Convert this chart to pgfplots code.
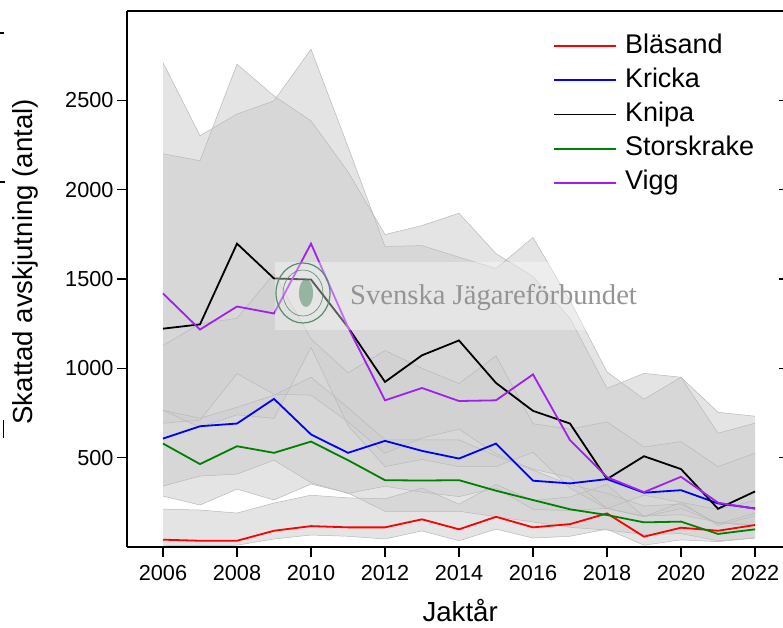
\documentclass[border=0pt]{standalone}
\usepackage{fontspec}
\setmainfont{Liberation Sans}
\newfontfamily\wmfont{Liberation Serif}
\usepackage{pgfplots}
\pgfplotsset{compat=1.18}
\usepackage{pgfplotstable}
\usepgfplotslibrary{fillbetween}

\definecolor{cred}{RGB}{255,0,0}
\definecolor{cblue}{RGB}{0,0,255}
\definecolor{cgreen}{RGB}{0,128,0}
\definecolor{cpurple}{RGB}{160,32,240}
\definecolor{bandfill}{RGB}{205,205,205}
\definecolor{bandline}{RGB}{185,185,185}
\definecolor{logogreen}{RGB}{88,140,108}

% estimates and interval bounds per season
\pgfplotstableread{
year bl bllo blhi kr krlo krhi kn knlo knhi st stlo sthi vi vilo vihi
2006 41 10 212 607 341 1128 1222 693 2201 579 285 765 1419 765 2711
2007 35 8 207 676 397 1250 1246 710 2162 464 235 721 1217 670 2302
2008 35 10 190 691 408 1280 1698 970 2702 564 324 782 1346 740 2423
2009 91 45 246 829 486 1530 1503 855 2525 527 263 850 1307 720 2497
2010 117 67 290 630 360 1165 1497 850 2385 590 352 950 1698 1117 2786
2011 110 60 275 527 300 975 1230 700 2100 486 302 780 1230 680 2240
2012 110 45 270 594 340 1100 924 525 1749 374 200 600 821 450 1682
2013 155 90 330 538 307 1000 1073 610 1799 372 200 600 890 490 1687
2014 99 35 240 495 282 915 1156 660 1868 374 200 600 817 450 1622
2015 169 100 350 579 330 1070 918 520 1642 315 170 510 821 450 1559
2016 110 50 260 371 211 690 762 435 1514 263 140 430 966 530 1732
2017 128 60 280 356 203 660 691 390 1279 211 110 350 598 330 1380
2018 188 100 350 380 217 700 380 215 888 179 95 300 391 215 980
2019 58 10 170 304 173 560 508 290 972 138 70 230 307 170 827
2020 108 40 250 318 181 590 436 250 950 142 75 240 393 215 950
2021 91 30 210 244 139 450 214 120 754 73 35 130 248 135 637
2022 123 50 260 216 123 525 311 175 732 99 50 190 214 118 693
}\data

\pgfplotsset{
  band/.style={draw=bandline, line width=0.5pt, forget plot},
  bandarea/.style={fill=bandfill, fill opacity=0.55, draw=none, forget plot},
}

\begin{document}
\begin{tikzpicture}
\begin{axis}[
  at={(127pt,80pt)}, anchor=south west,
  scale only axis, width=665pt, height=536pt,
  xmin=2005.027, xmax=2023, ymin=0, ymax=3000,
  axis y line*=left, axis x line*=box,
  axis line style={line width=1.6pt, -},
  tick pos=left, tick align=outside,
  major tick length=10pt,
  tick style={line width=1.6pt, black},
  xtick={2006,2008,...,2022},
  ytick={500,1000,...,2500},
  ticklabel style={font=\fontsize{21.7}{24}\selectfont},
  xticklabel style={yshift=-5pt},
  /pgf/number format/assume math mode=true,
  /pgf/number format/set thousands separator={},
  xlabel={Jaktår},
  ylabel={Skattad avskjutning (antal)},
  label style={font=\fontsize{27.6}{30}\selectfont},
  xlabel style={at={(axis description cs:0.501,-0.1395)}, anchor=base},
  ylabel style={at={(axis description cs:-0.153,0.532)}, anchor=center},
  legend style={at={(axis description cs:0.6406,0.959)}, anchor=north west,
    draw=none, fill=none, font=\fontsize{27}{30}\selectfont,
    row sep=8.2pt, column sep=8pt, inner sep=0pt,
    nodes={inner sep=0pt, text height=20pt, text depth=6pt}},
  legend cell align=left,
  legend image code/.code={\draw[#1] (0pt,0pt) -- (62pt,0pt);},
]
% confidence bands
\addplot[band, name path=vihi] table[x=year,y=vihi]{\data};
\addplot[band, name path=vilo] table[x=year,y=vilo]{\data};
\addplot[bandarea] fill between[of=vihi and vilo];
\addplot[band, name path=knhi] table[x=year,y=knhi]{\data};
\addplot[band, name path=knlo] table[x=year,y=knlo]{\data};
\addplot[bandarea] fill between[of=knhi and knlo];
\addplot[band, name path=krhi] table[x=year,y=krhi]{\data};
\addplot[band, name path=krlo] table[x=year,y=krlo]{\data};
\addplot[bandarea] fill between[of=krhi and krlo];
\addplot[band, name path=sthi] table[x=year,y=sthi]{\data};
\addplot[band, name path=stlo] table[x=year,y=stlo]{\data};
\addplot[bandarea] fill between[of=sthi and stlo];
\addplot[band, name path=blhi] table[x=year,y=blhi]{\data};
\addplot[band, name path=bllo] table[x=year,y=bllo]{\data};
\addplot[bandarea] fill between[of=blhi and bllo];

% estimates
\addplot[cred, line width=1.8pt] table[x=year,y=bl]{\data};
\addlegendentry{Bläsand}
\addplot[cblue, line width=1.8pt] table[x=year,y=kr]{\data};
\addlegendentry{Kricka}
\addplot[black, line width=1.8pt] table[x=year,y=kn]{\data};
\addlegendentry{Knipa}
\addplot[cgreen, line width=1.8pt] table[x=year,y=st]{\data};
\addlegendentry{Storskrake}
\addplot[cpurple, line width=1.8pt] table[x=year,y=vi]{\data};
\addlegendentry{Vigg}
\end{axis}

% watermark
\fill[white, fill opacity=0.35] (275pt,297pt) rectangle (637pt,365pt);
\draw[logogreen, line width=1.2pt] (303pt,334pt) ellipse [x radius=27pt, y radius=30pt];
\draw[logogreen, line width=0.6pt] (303pt,334pt) ellipse [x radius=20pt, y radius=23pt];
\fill[logogreen, fill opacity=0.55] (306pt,334pt) ellipse [x radius=7pt, y radius=14pt];
\node[anchor=base west, inner sep=0pt, text=black!42]
  at (350pt,322.5pt) {\wmfont\fontsize{28.6}{30}\selectfont Svenska Jägareförbundet};

% pieces of neighbouring panels at the edges
\draw[line width=1.4pt] (0pt,594pt) -- (4pt,594pt);
\draw[line width=1.4pt] (0pt,445pt) -- (5pt,445pt);
\draw[line width=1.6pt] (3.5pt,189pt) -- (3.5pt,207pt);
\foreach \yy in {526.7,437.4,348.1,258.7,169.4}
  \draw[line width=1.4pt] (779pt,\yy pt) -- (783pt,\yy pt);

\pgfresetboundingbox
\path[use as bounding box] (0pt,0pt) rectangle (783pt,627pt);
\end{tikzpicture}
\end{document}
